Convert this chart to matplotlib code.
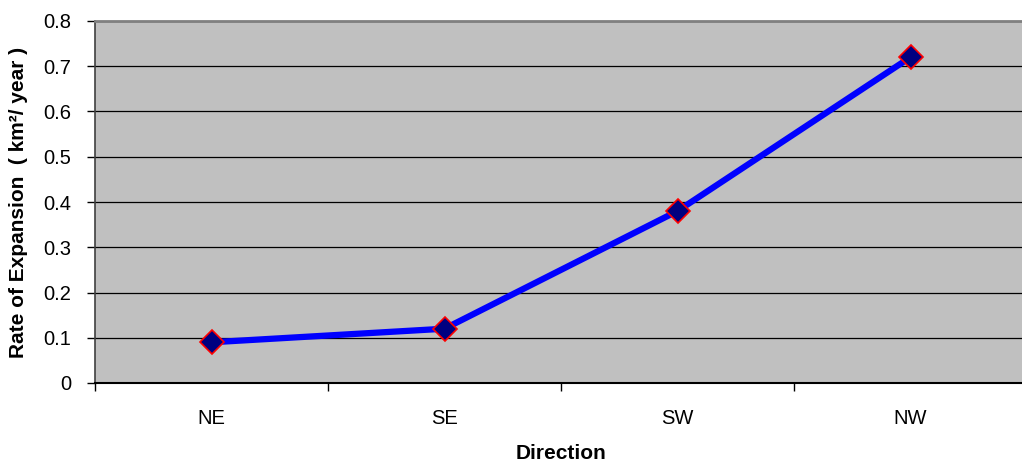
import matplotlib.pyplot as plt
import numpy as np

plt.rcParams['font.family'] = ['Liberation Sans', 'DejaVu Sans']

directions = ['NE', 'SE', 'SW', 'NW']
rates = [0.09, 0.12, 0.38, 0.72]

fig = plt.figure(figsize=(10.22, 4.66), dpi=100)
ax = fig.add_axes([95 / 1022, 83 / 466, 932 / 1022, 362 / 466])
ax.set_facecolor('#c0c0c0')

x = np.arange(len(directions))
ax.plot(x, rates, color='#0000ff', lw=4.5, marker='D', ms=12,
        markerfacecolor='#000080', markeredgecolor='#ff0000', markeredgewidth=1.2,
        zorder=3)

ax.set_xlim(-0.5, 3.5)
ax.set_ylim(0, 0.8)
ax.set_yticks(np.arange(0, 0.81, 0.1))
ax.set_yticklabels(['0', '0.1', '0.2', '0.3', '0.4', '0.5', '0.6', '0.7', '0.8'], fontsize=14.5)
ax.yaxis.grid(True, color='black', lw=0.9)
ax.set_axisbelow(True)

# category labels centred, tick marks on boundaries
ax.set_xticks(np.arange(-0.5, 3.6, 1.0))
ax.set_xticklabels([])
ax.set_xticks(x, minor=True)
ax.set_xticklabels(directions, minor=True, fontsize=14.5)
ax.tick_params(axis='x', which='minor', length=0, pad=19)
ax.tick_params(axis='x', which='major', length=6, width=1, color='black')
ax.tick_params(axis='y', length=6, width=1, color='black', pad=11)

for side in ['top', 'right']:
    ax.spines[side].set_color('#808080')
    ax.spines[side].set_linewidth(2)
ax.spines['left'].set_color('#404040')
ax.spines['left'].set_linewidth(1.2)
ax.spines['bottom'].set_color('black')
ax.spines['bottom'].set_linewidth(1.5)

ax.set_xlabel('Direction', fontsize=15, fontweight='bold', labelpad=11)
ax.set_ylabel('Rate of Expansion  ( km²/ year )', fontsize=15, fontweight='bold', labelpad=11)

fig.savefig('out.png', dpi=100)
